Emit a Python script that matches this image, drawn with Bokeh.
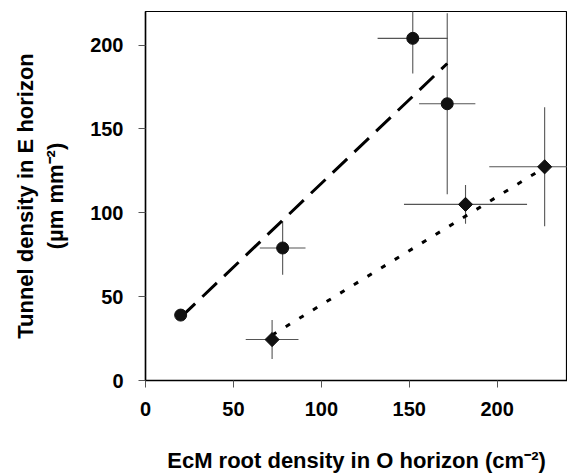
from bokeh.plotting import figure
from bokeh.models import Range1d, FixedTicker
from bokeh.embed import file_html
from bokeh.resources import INLINE
import math

# ---- data ----
# Series A: circles with dashed regression line
a_x = [20, 78, 152, 171.6]
a_y = [39, 79, 204, 165]
a_xerr = [2, 13, 20, 16]
a_yerr = [2, 16, 21, 54]
a_fit_x = [20, 171.6]
a_fit_y = [37.6, 189]

# Series B: diamonds with dotted regression line
b_x = [72, 182, 227]
b_y = [24.4, 105, 127.4]
b_xerr = [15, 35, 31.5]
b_yerr = [11.6, 11.5, 35.5]
b_fit_x = [72, 227]
b_fit_y = [27.1, 127]

x_ticks = [0, 50, 100, 150, 200]
y_ticks = [0, 50, 100, 150, 200]

x_label = "EcM root density in O horizon (cm\u207b\u00b2)"
y_label = "Tunnel density in E horizon\n(\u00b5m mm\u207b\u00b2)"

FONT = "Liberation Sans"

p = figure(width=567, height=476, output_backend="svg", toolbar_location=None,
           x_range=Range1d(0, 240), y_range=Range1d(0, 220),
           min_border_left=145, min_border_right=0, min_border_top=11, min_border_bottom=96)
p.background_fill_color = "white"
p.border_fill_color = "white"
p.outline_line_color = "black"
p.outline_line_width = 1.2
p.grid.visible = False

for ax, ticks in ((p.xaxis, x_ticks), (p.yaxis, y_ticks)):
    ax.ticker = FixedTicker(ticks=ticks)
    ax.minor_tick_line_color = None
    ax.major_tick_in = 0
    ax.major_tick_out = 7
    ax.major_tick_line_color = "#555555"
    ax.axis_line_color = "black"
    ax.axis_line_width = 1.5
    ax.major_label_text_font = FONT
    ax.major_label_text_font_style = "bold"
    ax.major_label_text_font_size = "20px"
    ax.major_label_text_color = "black"
    ax.axis_label_text_font = FONT
    ax.axis_label_text_font_style = "bold"
    ax.axis_label_text_font_size = "22px"
    ax.axis_label_text_color = "black"

p.xaxis.axis_label = x_label
p.yaxis.axis_label = y_label
p.xaxis.major_label_standoff = 14
p.yaxis.major_label_standoff = 15
p.xaxis.axis_label_standoff = 29
p.yaxis.axis_label_standoff = 19

def errbars(xs, ys, xe, ye):
    hx0 = [x - e for x, e in zip(xs, xe)]
    hx1 = [x + e for x, e in zip(xs, xe)]
    vy0 = [y - e for y, e in zip(ys, ye)]
    vy1 = [y + e for y, e in zip(ys, ye)]
    p.segment(x0=hx0, y0=ys, x1=hx1, y1=ys, line_color="#555555", line_width=1.1)
    p.segment(x0=xs, y0=vy0, x1=xs, y1=vy1, line_color="#555555", line_width=1.1)

errbars(a_x, a_y, a_xerr, a_yerr)
errbars(b_x, b_y, b_xerr, b_yerr)

p.line(a_fit_x, a_fit_y, line_color="black", line_width=3, line_dash="20 10")
p.line(b_fit_x, b_fit_y, line_color="black", line_width=3, line_dash="5 11")

p.scatter(a_x, a_y, marker="circle", size=12, fill_color="#111111", line_color="#111111")
p.scatter(b_x, b_y, marker="square", size=10, angle=math.pi / 4,
          fill_color="#111111", line_color="#111111")

open("out.html", "w").write(file_html(p, INLINE))
